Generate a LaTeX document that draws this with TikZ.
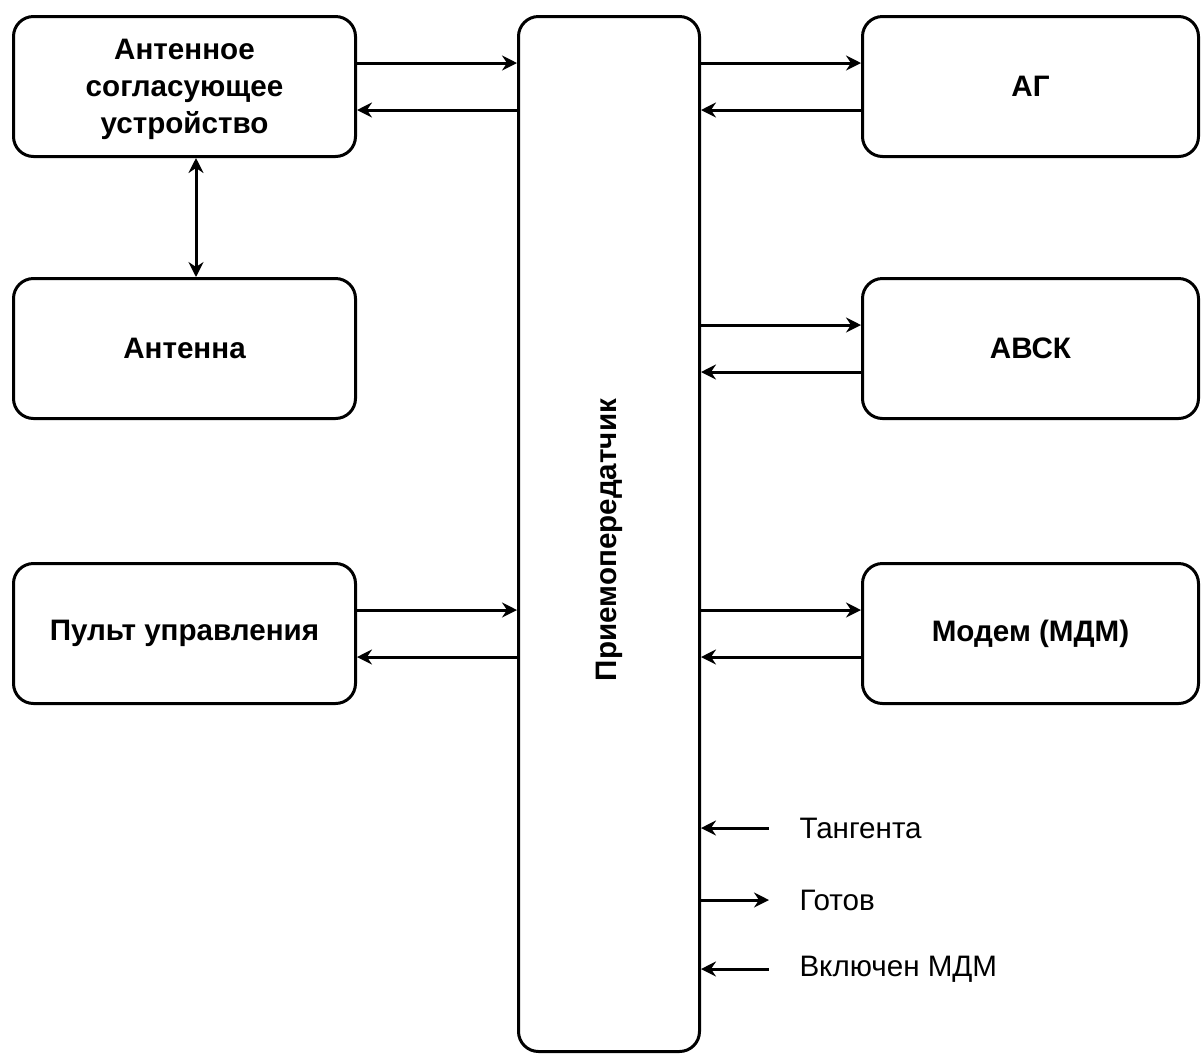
\documentclass[tikz,border=0pt]{standalone}
\usepackage{fontspec}
\setmainfont{Liberation Sans}
\usetikzlibrary{positioning, arrows.meta}

\begin{document}
\begin{tikzpicture}[
          x = 0.5pt, y = -0.5pt,
         >= {Stealth[length=7.5pt, width=7.5pt, inset=2.5pt]},
 line width = 1.5pt,
every node/.style = {font=\fontsize{14.8}{18.5}\selectfont},
        box/.style = {rectangle, draw, rounded corners=10pt, minimum width=171pt, minimum height=70pt,
                      align=center, font=\bfseries\fontsize{14.8}{18.5}\selectfont},
       rbox/.style = {box, minimum width=168pt},
        sig/.style = {anchor=west, inner xsep=14.5pt, inner ysep=0pt}
                        ]
\useasboundingbox (0,0) rectangle (1201,1056);
% transceiver
\node (trx) [box, minimum width=90.5pt, minimum height=517.5pt] at (609,534) {};
\node (trxlbl) [rotate=90, font=\bfseries\fontsize{14.8}{18.5}\selectfont] at ([yshift=-3pt]trx.center) {Приемопередатчик};
% left column
\node (asu) [box, left=80pt of trx.north west, anchor=north east, text depth=-4pt] {Антенное\\согласующее\\устройство};
\node (ant) [box, below=59.5pt of asu] {Антенна};
\node (pu)  [box, below=71pt of ant] {Пульт управления};
% right column
\node (ag)   [rbox, right=80pt of trx.north east, anchor=north west] {АГ};
\node (avsk) [rbox, below=59.5pt of ag] {АВСК};
\node (mdm)  [rbox, below=71pt of avsk] {Модем (МДМ)};
% links
\foreach \n in {asu, pu} {
  \draw[->] ([yshift=11.75pt]\n.east) -- ([yshift=11.75pt]\n.east -| trx.west);
  \draw[<-] ([yshift=-11.75pt]\n.east) -- ([yshift=-11.75pt]\n.east -| trx.west);
}
\foreach \n in {ag, avsk, mdm} {
  \draw[->] ([yshift=11.75pt]\n.west -| trx.east) -- ([yshift=11.75pt]\n.west);
  \draw[<-] ([yshift=-11.75pt]\n.west -| trx.east) -- ([yshift=-11.75pt]\n.west);
}
\draw[<->] ([xshift=5.75pt]asu.south) -- ([xshift=5.75pt]ant.north);
% signals
\node (tang) [sig] at (769,828) {Тангента};
\node (got)  [sig] at (769,900) {Готов};
\node (vkl)  [sig] at (769,969) {Включен МДМ};
\draw[<-] (trx.east |- tang.west) -- (tang.west);
\draw[->] (trx.east |- got.west) -- (got.west);
\draw[<-] (trx.east |- vkl.west) -- (vkl.west);
\end{tikzpicture}
\end{document}
